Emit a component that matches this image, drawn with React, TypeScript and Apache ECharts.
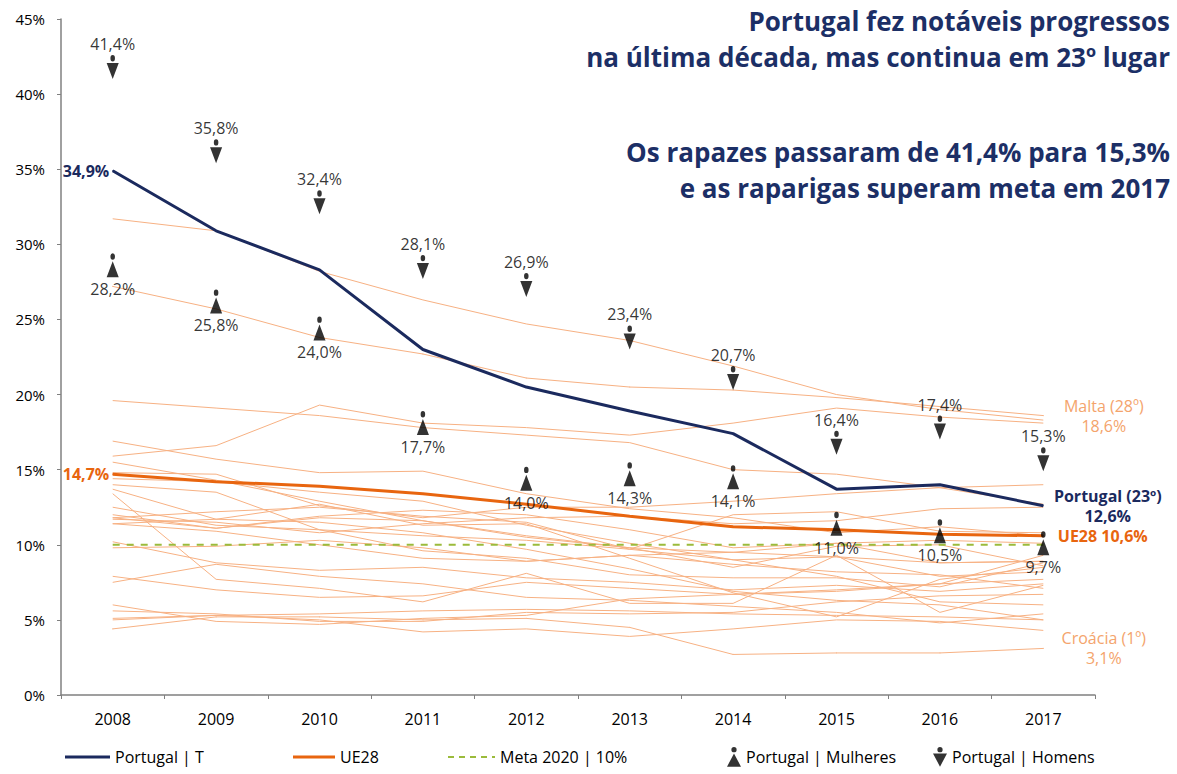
import React, { useEffect, useRef } from "react";
import * as echarts from "echarts";

const years = ["2008", "2009", "2010", "2011", "2012", "2013", "2014", "2015", "2016", "2017"];
const yTicks = [0, 5, 10, 15, 20, 25, 30, 35, 40, 45];

const portugalT = [34.9, 30.9, 28.3, 23.0, 20.5, 18.9, 17.4, 13.7, 14.0, 12.6];
const ue28 = [14.7, 14.2, 13.9, 13.4, 12.7, 11.9, 11.2, 11.0, 10.7, 10.6];
const meta2020 = [10, 10, 10, 10, 10, 10, 10, 10, 10, 10];
const mulheres = [28.2, 25.8, 24.0, 17.7, 14.0, 14.3, 14.1, 11.0, 10.5, 9.7];
const homens = [41.4, 35.8, 32.4, 28.1, 26.9, 23.4, 20.7, 16.4, 17.4, 15.3];

const espanha = [31.7, 30.9, 28.2, 26.3, 24.7, 23.6, 21.9, 20.0, 19.0, 18.3];
const malta = [27.2, 25.7, 23.8, 22.7, 21.1, 20.5, 20.3, 19.8, 19.2, 18.6];
const romenia = [15.9, 16.6, 19.3, 18.1, 17.8, 17.3, 18.1, 19.1, 18.5, 18.1];
const italia = [19.6, 19.1, 18.6, 17.8, 17.3, 16.8, 15.0, 14.7, 13.8, 14.0];
const bulgaria = [14.8, 14.7, 12.6, 11.8, 12.5, 12.5, 12.9, 13.4, 13.8, 12.7];
const hungria = [11.7, 11.5, 10.8, 11.4, 11.8, 11.9, 11.4, 11.6, 12.4, 12.5];
const reinoUnido = [16.9, 15.7, 14.8, 14.9, 13.4, 12.4, 11.8, 10.8, 11.2, 10.6];
const estonia = [14.0, 13.5, 11.0, 10.6, 10.3, 9.7, 12.0, 12.2, 10.9, 10.8];
const belgica = [12.0, 11.1, 11.9, 12.3, 12.0, 11.0, 9.8, 10.1, 8.8, 8.9];
const alemanha = [11.8, 11.1, 11.8, 11.6, 10.5, 9.8, 9.5, 10.1, 10.3, 10.1];
const franca = [11.8, 12.2, 12.5, 11.9, 11.5, 9.7, 9.0, 9.2, 8.8, 8.9];
const grecia = [14.4, 14.2, 13.5, 12.9, 11.3, 10.1, 9.0, 7.9, 6.2, 6.0];
const letonia = [15.5, 14.3, 12.9, 11.6, 10.6, 9.8, 8.5, 9.9, 10.0, 8.6];
const chipre = [13.7, 11.7, 12.7, 11.3, 11.4, 9.1, 6.8, 5.2, 7.7, 8.5];
const dinamarca = [12.5, 11.3, 11.0, 9.6, 9.1, 8.0, 7.8, 7.8, 7.2, 8.8];
const finlandia = [9.8, 9.9, 10.3, 9.8, 8.9, 9.3, 9.5, 9.2, 7.9, 8.2];
const holanda = [11.4, 10.9, 10.0, 9.1, 8.9, 9.3, 8.7, 8.2, 8.0, 7.1];
const suecia = [7.9, 7.0, 6.5, 6.6, 7.5, 7.1, 6.7, 7.0, 7.4, 7.7];
const austria = [10.2, 8.8, 8.3, 8.5, 7.8, 7.5, 7.0, 7.3, 6.9, 7.4];
const luxemburgo = [13.4, 7.7, 7.1, 6.2, 8.1, 6.1, 6.1, 9.3, 5.5, 7.3];
const irlanda = [11.4, 11.7, 11.5, 10.8, 9.7, 8.4, 6.9, 6.3, 6.0, 5.0];
const chequia = [5.6, 5.4, 4.9, 4.9, 5.5, 5.4, 5.5, 6.2, 6.6, 6.7];
const eslovaquia = [6.0, 4.9, 4.7, 5.1, 5.3, 6.4, 6.7, 6.9, 7.4, 9.3];
const polonia = [5.0, 5.3, 5.4, 5.6, 5.7, 5.6, 5.4, 5.3, 5.2, 5.0];
const eslovenia = [5.1, 5.3, 5.0, 4.2, 4.4, 3.9, 4.4, 5.0, 4.9, 4.3];
const lituania = [7.5, 8.7, 7.9, 7.4, 6.5, 6.3, 5.9, 5.5, 4.8, 5.4];
const croacia = [4.4, 5.2, 5.2, 5.0, 5.1, 4.5, 2.7, 2.8, 2.8, 3.1];

const countries: { name: string; values: number[] }[] = [
  { name: "Espanha", values: espanha },
  { name: "Malta", values: malta },
  { name: "Roménia", values: romenia },
  { name: "Itália", values: italia },
  { name: "Bulgária", values: bulgaria },
  { name: "Hungria", values: hungria },
  { name: "Reino Unido", values: reinoUnido },
  { name: "Estónia", values: estonia },
  { name: "Bélgica", values: belgica },
  { name: "Alemanha", values: alemanha },
  { name: "França", values: franca },
  { name: "Grécia", values: grecia },
  { name: "Letónia", values: letonia },
  { name: "Chipre", values: chipre },
  { name: "Dinamarca", values: dinamarca },
  { name: "Finlândia", values: finlandia },
  { name: "Holanda", values: holanda },
  { name: "Suécia", values: suecia },
  { name: "Áustria", values: austria },
  { name: "Luxemburgo", values: luxemburgo },
  { name: "Irlanda", values: irlanda },
  { name: "Chéquia", values: chequia },
  { name: "Eslováquia", values: eslovaquia },
  { name: "Polónia", values: polonia },
  { name: "Eslovénia", values: eslovenia },
  { name: "Lituânia", values: lituania },
  { name: "Croácia", values: croacia },
];

const NAVY = "#1B2A5E";
const TITLE = "#1C2F66";
const ORANGE = "#E8650F";
const LIGHT = "#F7B183";
const LIGHT_TEXT = "#F4A46C";
const GREEN = "#9BBB3B";
const FONT = "'Open Sans', sans-serif";

const HEAD = "M5,3 A3,3 0 1,0 11,3 A3,3 0 1,0 5,3 Z ";
const WOMAN = "path://" + HEAD + "M8,7.5 L16,22.5 L0,22.5 Z";
const MAN = "path://" + HEAD + "M0,7.5 L16,7.5 L8,22.5 Z";
const SOLID_ICON = "path://M0,0 L45,0 L45,3 L0,3 Z";
const DASH_ICON =
  "path://M0,0h6v2h-6z M11,0h6v2h-6z M22,0h6v2h-6z M33,0h6v2h-6z M44,0h3v2h-3z";

const fmt = (v: number) => v.toFixed(1).replace(".", ",") + "%";

export default function App() {
  const ref = useRef<HTMLDivElement>(null);

  useEffect(() => {
    if (!ref.current) return;
    const chart = echarts.init(ref.current, undefined, { renderer: "svg" });
    const last = years.length - 1;

    const countrySeries = countries.map((c) => {
      const labelled = c.name === "Malta" || c.name === "Croácia";
      return {
        name: c.name,
        type: "line",
        silent: true,
        symbol: labelled ? "circle" : "none",
        symbolSize: 1,
        showSymbol: labelled,
        z: 1,
        lineStyle: { color: LIGHT, width: 1 },
        itemStyle: { color: LIGHT },
        data: c.values.map((v, i) => {
          if (labelled && i === last) {
            const txt = c.name === "Malta" ? "Malta (28º)\n" + fmt(v) : "Croácia (1º)\n" + fmt(v);
            return {
              value: v,
              label: {
                show: true,
                position: "right",
                align: "center",
                offset: [55, 0],
                formatter: txt,
                color: LIGHT_TEXT,
                fontSize: 16,
                lineHeight: 20,
                fontFamily: FONT,
              },
            };
          }
          return v;
        }),
      };
    });

    const legendText = { fontSize: 16, color: "#000", fontFamily: FONT };

    const option: any = {
      animation: false,
      backgroundColor: "#ffffff",
      textStyle: { fontFamily: FONT },
      grid: { left: 61, right: 82, top: 19, bottom: 79, containLabel: false },
      xAxis: {
        type: "category",
        data: years,
        boundaryGap: true,
        axisLine: { lineStyle: { color: "#808080", width: 1.5 } },
        axisTick: { show: true, length: 4, lineStyle: { color: "#808080" } },
        axisLabel: { color: "#000", fontSize: 16, margin: 16, fontFamily: FONT },
      },
      yAxis: {
        type: "value",
        min: 0,
        max: 45,
        interval: 5,
        axisLine: { show: true, lineStyle: { color: "#808080", width: 1.5 } },
        axisTick: { show: true, length: 4, lineStyle: { color: "#808080" } },
        splitLine: { show: false },
        axisLabel: {
          color: "#000",
          fontSize: 15,
          margin: 16,
          fontFamily: FONT,
          formatter: (v: number) => (yTicks.includes(v) ? v + "%" : ""),
        },
      },
      legend: [
        {
          left: 60, top: 744, itemWidth: 45, itemHeight: 3, itemGap: 0,
          textStyle: legendText,
          data: [{ name: "Portugal | T", icon: SOLID_ICON }],
        },
        {
          left: 288, top: 744, itemWidth: 42, itemHeight: 3,
          textStyle: legendText,
          data: [{ name: "UE28", icon: SOLID_ICON }],
        },
        {
          left: 443, top: 744, itemWidth: 47, itemHeight: 2,
          textStyle: legendText,
          data: [{ name: "Meta 2020 | 10%", icon: DASH_ICON }],
        },
        {
          left: 722, top: 742, itemWidth: 14, itemHeight: 20,
          textStyle: legendText,
          data: [{ name: "Portugal | Mulheres", icon: WOMAN }],
        },
        {
          left: 928, top: 742, itemWidth: 14, itemHeight: 20,
          textStyle: legendText,
          data: [{ name: "Portugal | Homens", icon: MAN }],
        },
      ],
      graphic: [
        { type: "text", x: 1170, y: 21, style: { text: "Portugal fez notáveis progressos", align: "right", verticalAlign: "middle", font: "bold 26px 'Open Sans'", fill: TITLE } },
        { type: "text", x: 1170, y: 57, style: { text: "na última década, mas continua em 23º lugar", align: "right", verticalAlign: "middle", font: "bold 26px 'Open Sans'", fill: TITLE } },
        { type: "text", x: 1170, y: 152, style: { text: "Os rapazes passaram de 41,4% para 15,3%", align: "right", verticalAlign: "middle", font: "bold 26px 'Open Sans'", fill: TITLE } },
        { type: "text", x: 1170, y: 188, style: { text: "e as raparigas superam meta em 2017", align: "right", verticalAlign: "middle", font: "bold 26px 'Open Sans'", fill: TITLE } },
      ],
      series: [
        ...countrySeries,
        {
          name: "Meta 2020 | 10%",
          type: "line",
          symbol: "none",
          z: 2,
          lineStyle: { color: GREEN, width: 2, type: [7, 7] },
          itemStyle: { color: GREEN },
          data: meta2020,
        },
        {
          name: "UE28",
          type: "line",
          symbol: "circle",
          symbolSize: 1,
          showSymbol: true,
          z: 3,
          lineStyle: { color: ORANGE, width: 3 },
          itemStyle: { color: ORANGE },
          data: ue28.map((v, i) => {
            if (i === 0)
              return { value: v, label: { show: true, position: "left", distance: 3, formatter: fmt(v), color: ORANGE, fontWeight: "bold", fontSize: 16, fontFamily: FONT } };
            if (i === last)
              return { value: v, label: { show: true, position: "right", distance: 14, formatter: "UE28 " + fmt(v), color: ORANGE, fontWeight: "bold", fontSize: 16, fontFamily: FONT } };
            return v;
          }),
        },
        {
          name: "Portugal | T",
          type: "line",
          symbol: "circle",
          symbolSize: 1,
          showSymbol: true,
          z: 4,
          lineStyle: { color: NAVY, width: 3 },
          itemStyle: { color: NAVY },
          data: portugalT.map((v, i) => {
            if (i === 0)
              return { value: v, label: { show: true, position: "left", distance: 3, formatter: fmt(v), color: NAVY, fontWeight: "bold", fontSize: 16, fontFamily: FONT } };
            if (i === last)
              return { value: v, label: { show: true, position: "right", align: "center", offset: [59, 0], formatter: "Portugal (23º)\n" + fmt(v), color: NAVY, fontWeight: "bold", fontSize: 16, lineHeight: 20, fontFamily: FONT } };
            return v;
          }),
        },
        {
          name: "Portugal | Mulheres",
          type: "scatter",
          z: 5,
          symbol: WOMAN,
          symbolSize: [17, 24],
          symbolKeepAspect: true,
          symbolOffset: [0, -6],
          itemStyle: { color: "#000" },
          label: { show: true, position: "bottom", distance: 4, color: "#000", fontSize: 16, fontFamily: FONT, formatter: (p: any) => fmt(p.value) },
          data: mulheres,
        },
        {
          name: "Portugal | Homens",
          type: "scatter",
          z: 5,
          symbol: MAN,
          symbolSize: [17, 24],
          symbolKeepAspect: true,
          symbolOffset: [0, -6],
          itemStyle: { color: "#000" },
          label: { show: true, position: "top", distance: 3, color: "#000", fontSize: 16, fontFamily: FONT, formatter: (p: any) => fmt(p.value) },
          data: homens,
        },
      ],
    };

    chart.setOption(option);
    return () => chart.dispose();
  }, []);

  return (
    <div
      ref={ref}
      style={{ position: "fixed", left: 0, top: 0, width: 1177, height: 774, background: "#fff" }}
    />
  );
}
